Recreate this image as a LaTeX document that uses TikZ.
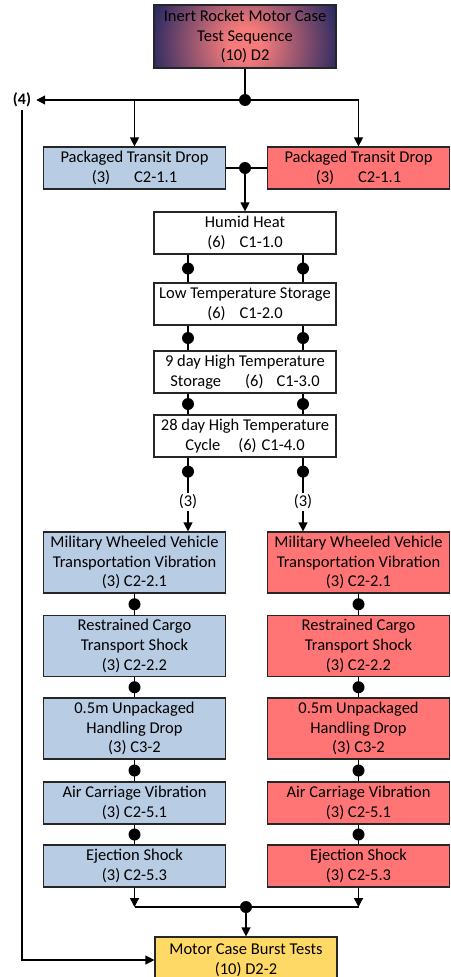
\documentclass[tikz,border=0pt]{standalone}
\usepackage{fontspec}
\setmainfont{Carlito}
\usetikzlibrary{arrows.meta,calc}

\definecolor{boxblue}{HTML}{B8CCE4}
\definecolor{boxred}{HTML}{FF7575}
\definecolor{boxyellow}{HTML}{FFD966}
\definecolor{edgegray}{HTML}{262626}
\definecolor{navyedge}{HTML}{2A2A62}
\definecolor{salmoncore}{HTML}{F67B7B}

% circular glow for the title box: salmon core fading to navy
% (the central 50bp square of a shading is fitted to the shaded path)
\pgfdeclareradialshading{titleglow}{\pgfpointorigin}{%
  color(0bp)=(salmoncore); color(4bp)=(salmoncore);
  color(24bp)=(navyedge); color(50bp)=(navyedge)}

\tikzset{
  box/.style={draw=edgegray, line width=1.2pt, align=center, inner sep=0pt,
              minimum width=182, text=black},
  short/.style={box, minimum height=42},
  tall/.style={box, minimum height=61},
  bluefill/.style={fill=boxblue},
  redfill/.style={fill=boxred},
  dot/.style={circle, fill=black, inner sep=0pt, minimum size=12},
  link/.style={line width=1.2pt, draw=black},
  arr/.style={link, -{Triangle[length=9pt,width=9pt]}},
  countlbl/.style={inner sep=2pt, text=black},
}

\begin{document}
\begin{tikzpicture}[x=1pt, y=-1pt, font=\fontsize{16.5}{19.8}\selectfont]
\useasboundingbox (0,0) rectangle (450,977);
\clip (0,0) rectangle (450,977);

% column guides for the paired conditioning links
\coordinate (cl) at (188,0);
\coordinate (cr) at (303,0);

% ---- boxes ----
\node[box, minimum height=63,
      path picture={\shade[shading=titleglow]
        ($(path picture bounding box.center)+(0,7)$) circle [radius=100pt];}]
  (top) at (245,36.5)
  {Inert Rocket Motor Case\\Test Sequence\\(10) D2};

\node[short, bluefill] (ptdL) at (134.5,168) {Packaged Transit Drop\\(3)\hspace{24pt}C2-1.1};
\node[short, redfill]  (ptdR) at (358.5,168) {Packaged Transit Drop\\(3)\hspace{24pt}C2-1.1};

\node[short, fill=white] (hh)    at (245,233) {Humid Heat\\(6)\hspace{14pt}C1-1.0};
\node[short, fill=white] (lts)   at (245,304) {Low Temperature Storage\\(6)\hspace{14pt}C1-2.0};
\node[short, fill=white] (hts9)  at (245,372) {9 day High Temperature\\Storage\hspace{24pt}(6)\hspace{13pt}C1-3.0};
\node[short, fill=white] (hts28) at (245,436) {28 day High Temperature\\Cycle\hspace{18pt}(6)\hspace{5pt}C1-4.0};

\node[countlbl] (n3L) at (188,502) {(3)};
\node[countlbl] (n3R) at (303,502) {(3)};

\node[tall, bluefill] (mwvL) at (134.5,562.5) {Military Wheeled Vehicle\\Transportation Vibration\\(3) C2-2.1};
\node[tall, redfill]  (mwvR) at (358.5,562.5) {Military Wheeled Vehicle\\Transportation Vibration\\(3) C2-2.1};

\node[tall, bluefill] (rcL) at (134.5,646) {Restrained Cargo\\Transport Shock\\(3) C2-2.2};
\node[tall, redfill]  (rcR) at (358.5,646) {Restrained Cargo\\Transport Shock\\(3) C2-2.2};

\node[tall, bluefill] (updL) at (134.5,728.5) {0.5m Unpackaged\\Handling Drop\\(3) C3-2};
\node[tall, redfill]  (updR) at (358.5,728.5) {0.5m Unpackaged\\Handling Drop\\(3) C3-2};

\node[short, bluefill] (acL) at (134.5,803) {Air Carriage Vibration\\(3) C2-5.1};
\node[short, redfill]  (acR) at (358.5,803) {Air Carriage Vibration\\(3) C2-5.1};

\node[short, bluefill] (ejL) at (134.5,866) {Ejection Shock\\(3) C2-5.3};
\node[short, redfill]  (ejR) at (358.5,866) {Ejection Shock\\(3) C2-5.3};

\node[box, fill=boxyellow, minimum height=46] (motor) at (246,960)
  {Motor Case Burst Tests\\(10) D2-2};

\node[inner xsep=5pt, inner ysep=3pt, font=\fontsize{16}{18}\selectfont\bfseries]
  (lbl4) at (22,100) {(4)};

% ---- split below the title ----
\coordinate (d1) at (245,100);
\draw[link] (top) -- (d1);
\draw[arr] (d1) -| (ptdL);
\draw[arr] (d1) -| (ptdR);
\draw[arr] (d1) -- (lbl4);
\node[dot] at (d1) {};

% ---- merge of the packaged drops ----
\coordinate (d2) at (245,168);
\draw[link] (ptdL) -- (ptdR);
\draw[arr] (d2) -- (hh);
\node[dot] at (d2) {};

% ---- climatic conditioning chain ----
\foreach \a/\b in {hh/lts, lts/hts9, hts9/hts28} {
  \draw[link] (\a.south -| cl) -- node[dot]{} (\b.north -| cl);
  \draw[link] (\a.south -| cr) -- node[dot]{} (\b.north -| cr);
}
\draw[link] (hts28.south -| cl) -- node[dot, pos=0.4]{} (n3L);
\draw[link] (hts28.south -| cr) -- node[dot, pos=0.4]{} (n3R);
\draw[arr] (n3L) -- (mwvL.north -| n3L);
\draw[arr] (n3R) -- (mwvR.north -| n3R);

% ---- transport / handling chains ----
\foreach \a/\b in {mwvL/rcL, rcL/updL, updL/acL, acL/ejL,
                   mwvR/rcR, rcR/updR, updR/acR, acR/ejR} {
  \draw[link] (\a) -- node[dot]{} (\b);
}

% ---- join into the burst tests ----
\coordinate (j) at (246,907);
\draw[arr] (ejL) -- (ejL.south |- j);
\draw[arr] (ejR) -- (ejR.south |- j);
\draw[link] (ejL.south |- j) -- (ejR.south |- j);
\draw[arr] (j) -- (motor);
\node[dot] at (j) {};

% ---- control units straight to burst tests ----
\draw[arr] (lbl4) |- (motor);
\end{tikzpicture}
\end{document}
